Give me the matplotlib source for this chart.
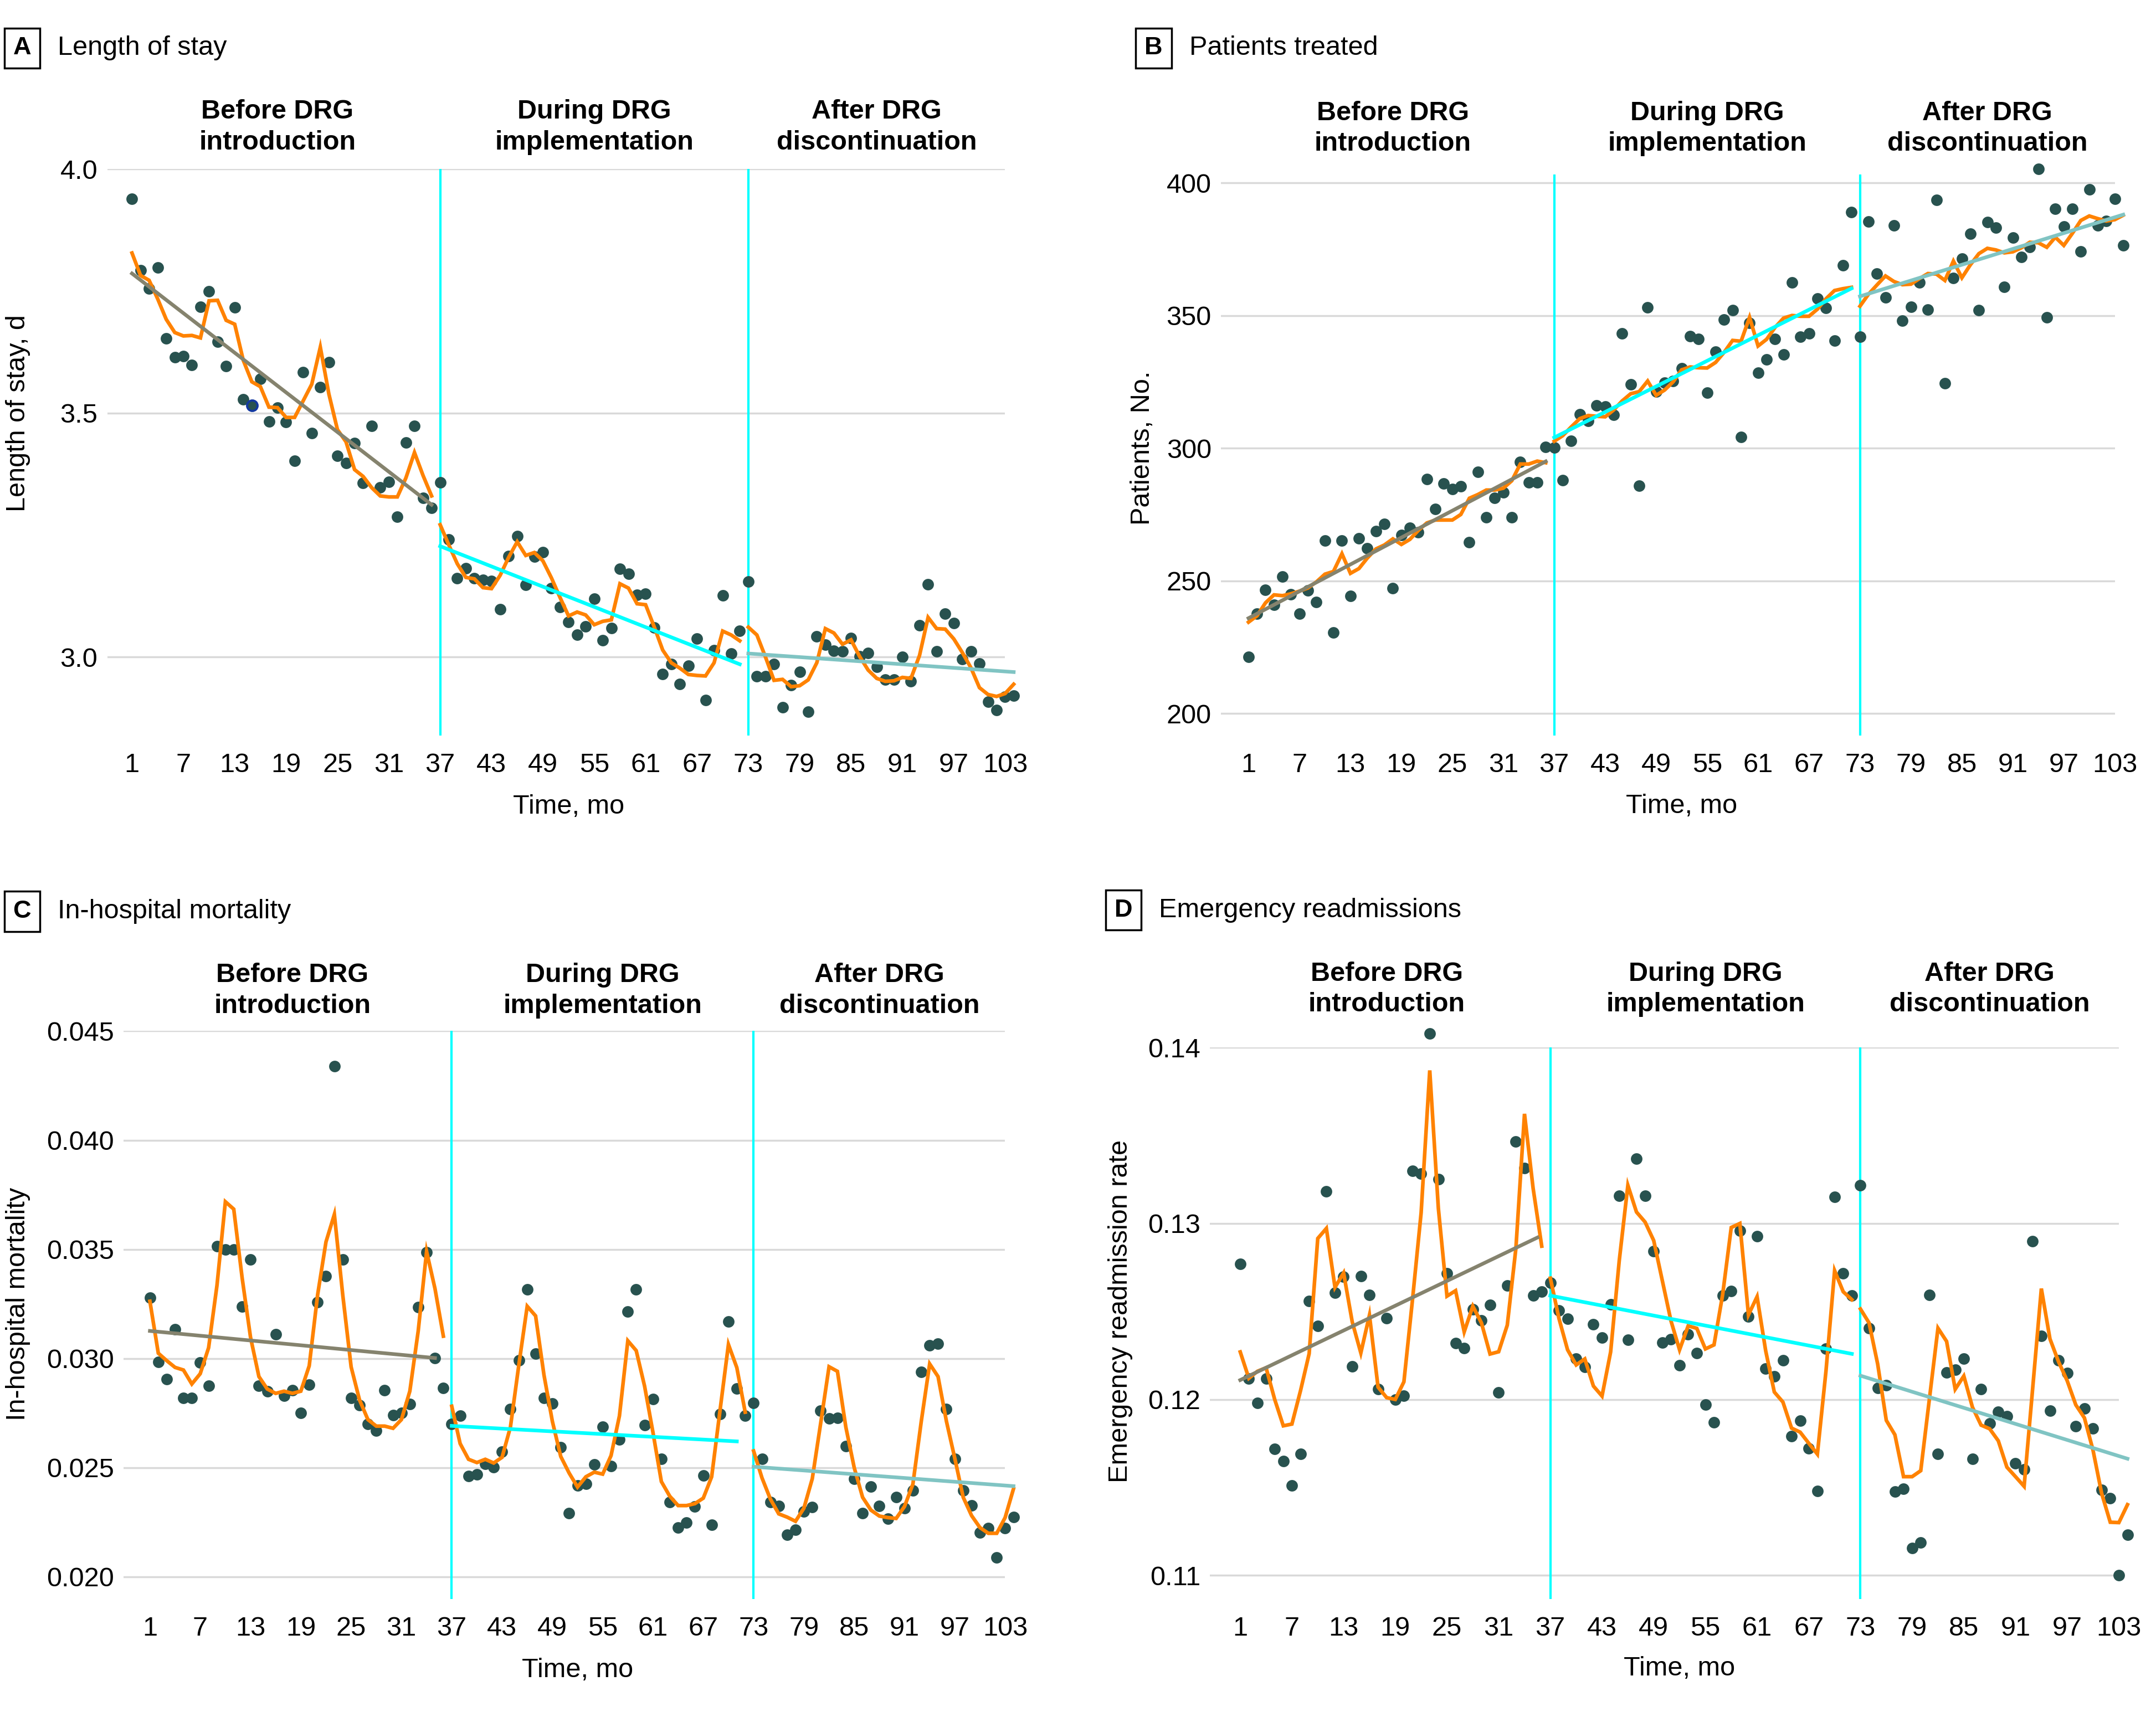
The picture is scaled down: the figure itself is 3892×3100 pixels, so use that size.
import numpy as np
import matplotlib
matplotlib.use("Agg")
import matplotlib.pyplot as plt
import matplotlib.transforms as transforms

plt.rcParams['font.family'] = ['Liberation Sans', 'DejaVu Sans']

months = np.arange(1, 105)
segments = [(1, 36), (37, 72), (73, 104)]
breaks = [37, 73]
phase_labels = ['Before DRG\nintroduction', 'During DRG\nimplementation', 'After DRG\ndiscontinuation']
phase_centers = [18, 55, 88]
xticks = np.arange(1, 104, 6)

# A: length of stay (days)
los_obs = [3.939, 3.793, 3.755, 3.798, 3.653, 3.614, 3.617, 3.598, 3.718, 3.749, 3.646, 3.596, 3.716, 3.528, 3.516,
           3.570, 3.483, 3.511, 3.481, 3.402, 3.584, 3.459, 3.553, 3.604, 3.412, 3.397, 3.438, 3.357, 3.473, 3.347,
           3.359, 3.287, 3.439, 3.473, 3.326, 3.306,
           3.358, 3.241, 3.161, 3.182, 3.161, 3.158, 3.156, 3.098, 3.207, 3.248, 3.148, 3.206, 3.215, 3.141, 3.102,
           3.072, 3.045, 3.062, 3.119, 3.034, 3.059, 3.181, 3.170, 3.127, 3.130, 3.060, 2.965, 2.985, 2.945, 2.982,
           3.038, 2.911, 3.014, 3.126, 3.007, 3.053,
           3.155, 2.960, 2.960, 2.985, 2.897, 2.942, 2.969, 2.888, 3.042, 3.025, 3.012, 3.011, 3.039, 3.001, 3.008,
           2.980, 2.954, 2.953, 3.000, 2.950, 3.065, 3.149, 3.011, 3.089, 3.069, 2.996, 3.011, 2.987, 2.908, 2.891,
           2.918, 2.921]
los_fit = [3.828, 3.782, 3.772, 3.734, 3.692, 3.665, 3.658, 3.659, 3.654, 3.730, 3.731, 3.690, 3.682, 3.608, 3.564,
           3.554, 3.512, 3.511, 3.491, 3.491, 3.525, 3.559, 3.635, 3.539, 3.466, 3.441, 3.384, 3.370, 3.347, 3.330,
           3.328, 3.328, 3.367, 3.419, 3.372, 3.330,
           3.271, 3.230, 3.191, 3.163, 3.160, 3.142, 3.140, 3.167, 3.204, 3.236, 3.208, 3.214, 3.197, 3.162, 3.122,
           3.084, 3.092, 3.086, 3.066, 3.073, 3.076, 3.150, 3.141, 3.109, 3.107, 3.062, 3.014, 2.988, 2.977, 2.964,
           2.962, 2.961, 2.988, 3.053, 3.045, 3.033,
           3.061, 3.045, 3.000, 2.952, 2.954, 2.939, 2.941, 2.953, 2.988, 3.058, 3.049, 3.026, 3.035, 3.001, 2.973,
           2.956, 2.950, 2.951, 2.958, 2.956, 3.003, 3.081, 3.058, 3.057, 3.037, 3.009, 2.978, 2.937, 2.923, 2.919,
           2.925, 2.944]
los_trend = [(1, 3.786, 36, 3.312), (37, 3.227, 72, 2.985), (73, 3.007, 104, 2.969)]

# B: patients treated
pat_obs = [221.3, 237.5, 246.6, 241.0, 251.5, 244.9, 237.5, 246.3, 241.9, 265.1, 230.6, 265.1, 244.2, 265.9, 262.3,
           268.7, 271.4, 247.3, 267.3, 269.9, 268.3, 288.3, 277.1, 286.7, 284.5, 285.7, 264.6, 291.0, 273.9, 281.3,
           283.3, 273.9, 294.9, 287.0, 287.0, 300.5,
           300.2, 288.0, 302.7, 312.7, 310.2, 316.0, 315.6, 312.5, 343.3, 324.1, 285.8, 353.1, 321.4, 324.7, 325.2,
           330.0, 342.2, 341.2, 320.8, 336.3, 348.5, 352.1, 304.2, 347.2, 328.5, 333.5, 341.2, 335.2, 362.5, 342.0,
           343.3, 356.3, 352.9, 340.6, 369.0, 389.0,
           342.0, 385.3, 365.8, 356.8, 384.0, 348.1, 353.3, 362.5, 352.2, 393.6, 324.5, 364.1, 371.5, 380.8, 351.9,
           385.1, 383.0, 360.8, 379.3, 372.0, 375.7, 405.3, 349.2, 390.1, 383.5, 390.1, 374.1, 397.6, 384.0, 385.6,
           393.9, 376.4]
pat_fit = [234.4, 236.8, 241.7, 244.7, 244.4, 245.1, 246.1, 247.3, 249.6, 252.5, 253.5, 260.2, 252.8, 254.6, 258.6,
           262.0, 263.5, 265.8, 263.7, 265.6, 269.0, 271.8, 272.9, 272.9, 272.9, 275.0, 281.1, 282.5, 284.2, 284.2,
           284.9, 287.7, 294.0, 294.0, 295.1, 294.5,
           302.6, 304.7, 308.0, 311.1, 312.3, 312.0, 311.8, 314.4, 317.8, 320.5, 321.3, 325.3, 319.9, 321.9, 325.0,
           329.5, 330.6, 330.3, 330.2, 332.3, 336.1, 340.6, 340.3, 349.3, 338.5, 341.0, 345.5, 349.0, 350.0, 349.7,
           349.7, 352.4, 356.3, 359.4, 360.1, 360.6,
           353.5, 358.0, 361.5, 364.9, 362.8, 361.6, 361.8, 363.9, 365.8, 365.6, 363.2, 370.5, 364.2, 369.1, 373.3,
           375.3, 374.7, 373.6, 374.0, 375.5, 377.6, 377.4, 375.7, 379.5, 376.4, 380.9, 385.8, 387.5, 386.5, 385.6,
           386.1, 387.8]
pat_trend = [(1, 235.9, 36, 295.0), (37, 304.0, 72, 360.2), (73, 357.2, 104, 388.0)]

# C: in-hospital mortality
mort_obs = [0.03277, 0.02983, 0.02906, 0.03133, 0.02819, 0.02819, 0.02981, 0.02874, 0.03513, 0.03500, 0.03500,
            0.03238, 0.03454, 0.02876, 0.02850, 0.03112, 0.02830, 0.02854, 0.02750, 0.02879, 0.03257, 0.03376,
            0.04340, 0.03454, 0.02820, 0.02787, 0.02700, 0.02670, 0.02854, 0.02740, 0.02750, 0.02790, 0.03235,
            0.03487, 0.03002, 0.02864,
            0.02699, 0.02737, 0.02462, 0.02470, 0.02517, 0.02502, 0.02572, 0.02769, 0.02992, 0.03316, 0.03023,
            0.02819, 0.02794, 0.02592, 0.02292, 0.02417, 0.02425, 0.02515, 0.02686, 0.02508, 0.02629, 0.03214,
            0.03316, 0.02695, 0.02814, 0.02540, 0.02341, 0.02225, 0.02247, 0.02322, 0.02464, 0.02237, 0.02746,
            0.03169, 0.02862, 0.02737,
            0.02797, 0.02540, 0.02342, 0.02324, 0.02191, 0.02214, 0.02298, 0.02318, 0.02760, 0.02725, 0.02727,
            0.02597, 0.02449, 0.02290, 0.02413, 0.02324, 0.02267, 0.02364, 0.02315, 0.02394, 0.02938, 0.03061,
            0.03068, 0.02769, 0.02540, 0.02394, 0.02326, 0.02203, 0.02222, 0.02089, 0.02222, 0.02273]
mort_fit = [0.03262, 0.03024, 0.02990, 0.02959, 0.02947, 0.02883, 0.02930, 0.03049, 0.03335, 0.03718, 0.03684,
            0.03369, 0.03097, 0.02917, 0.02860, 0.02840, 0.02850, 0.02840, 0.02850, 0.02966, 0.03291, 0.03534,
            0.03660, 0.03291, 0.02961, 0.02810, 0.02720, 0.02690, 0.02690, 0.02680, 0.02720, 0.02850, 0.03126,
            0.03490, 0.03320, 0.03102,
            0.02781, 0.02610, 0.02538, 0.02523, 0.02538, 0.02521, 0.02547, 0.02686, 0.02970, 0.03239, 0.03195,
            0.02924, 0.02712, 0.02551, 0.02475, 0.02411, 0.02458, 0.02479, 0.02470, 0.02555, 0.02737, 0.03081,
            0.03036, 0.02873, 0.02661, 0.02436, 0.02369, 0.02326, 0.02326, 0.02335, 0.02360, 0.02458, 0.02763,
            0.03064, 0.02958, 0.02754,
            0.02576, 0.02453, 0.02356, 0.02288, 0.02273, 0.02254, 0.02314, 0.02449, 0.02703, 0.02962, 0.02941,
            0.02686, 0.02500, 0.02364, 0.02305, 0.02278, 0.02271, 0.02267, 0.02322, 0.02424, 0.02712, 0.02975,
            0.02917, 0.02712, 0.02542, 0.02364, 0.02280, 0.02225, 0.02199, 0.02199, 0.02271, 0.02403]
mort_trend = [(1, 0.03126, 35, 0.03002), (37, 0.02691, 71, 0.02620), (73, 0.02504, 104, 0.02415)]

# D: emergency readmission rate
readm_obs = [0.12770, 0.1212, 0.1198, 0.1212, 0.1172, 0.1165, 0.1151, 0.1169, 0.12558, 0.12416, 0.13181, 0.12606,
             0.12697, 0.12188, 0.12700, 0.12593, 0.1206, 0.12460, 0.1200, 0.1202, 0.13298, 0.13282, 0.14081,
             0.13253, 0.12717, 0.12321, 0.12293, 0.12511, 0.12448, 0.12536, 0.1204, 0.12646, 0.13465, 0.13314,
             0.12590, 0.12612,
             0.12664, 0.12506, 0.12458, 0.12233, 0.12185, 0.12426, 0.12350, 0.12540, 0.13156, 0.12339, 0.13368,
             0.13156, 0.12843, 0.12322, 0.12341, 0.12193, 0.12369, 0.12262, 0.11971, 0.11869, 0.12592, 0.12616,
             0.12960, 0.12470, 0.12929, 0.12176, 0.12130, 0.12223, 0.11791, 0.11879, 0.11723, 0.1148, 0.12287,
             0.13151, 0.12717, 0.12592,
             0.13217, 0.12405, 0.12065, 0.12082, 0.11477, 0.11493, 0.11155, 0.11187, 0.12593, 0.11690, 0.12153,
             0.12170, 0.12232, 0.11663, 0.12058, 0.11865, 0.11929, 0.11904, 0.11636, 0.11602, 0.12899, 0.12361,
             0.11935, 0.12221, 0.12149, 0.11847, 0.11949, 0.11836, 0.11486, 0.11438, 0.11000, 0.11230]
readm_fit = [0.1227, 0.1212, 0.1216, 0.1218, 0.1200, 0.1185, 0.1186, 0.1205, 0.1226, 0.12915, 0.12972, 0.12637,
             0.12719, 0.12441, 0.12264, 0.12479, 0.1207, 0.1201, 0.1200, 0.1210, 0.12568, 0.13061, 0.13870,
             0.13086, 0.12587, 0.12618, 0.12384, 0.12530, 0.12435, 0.12258, 0.12271, 0.12422, 0.12858, 0.13623,
             0.13200, 0.12871,
             0.12689, 0.12460, 0.12282, 0.12196, 0.12230, 0.12076, 0.12019, 0.12270, 0.12789, 0.13217, 0.13065,
             0.13008, 0.12903, 0.12675, 0.12447, 0.12282, 0.12418, 0.12404, 0.12287, 0.12310, 0.12595, 0.12977,
             0.13000, 0.12481, 0.12584, 0.12276, 0.12042, 0.11985, 0.11837, 0.11814, 0.11751, 0.11689, 0.12162,
             0.12732, 0.12612, 0.12567,
             0.12514, 0.12435, 0.12201, 0.11881, 0.11799, 0.11561, 0.11561, 0.11595, 0.12001, 0.12405, 0.12330,
             0.12058, 0.12133, 0.11956, 0.11854, 0.11833, 0.11765, 0.11615, 0.11561, 0.11506, 0.12067, 0.12630,
             0.12344, 0.12214, 0.12106, 0.11969, 0.11895, 0.11711, 0.11466, 0.11302, 0.11300, 0.11402]
readm_trend = [(1, 0.1211, 35.5, 0.1292), (37, 0.1259, 72, 0.12259), (73, 0.12135, 104, 0.11663)]

DOT = '#28524F'
ORANGE = '#FF8200'
TREND_COLORS = ['#85836E', '#00FFFF', '#80C4C3']
BREAK = '#00FFFF'
GRID = '#D9D9D9'
FS = 14

W, H = 1568.0, 1249.0   # layout measured on the reference, in its pixel units

panels = [
    dict(letter='A', title='Length of stay', ylabel='Length of stay, d',
         obs=los_obs, fit=los_fit, trend=los_trend,
         ylim=(2.839, 4.0), yticks=[3.0, 3.5, 4.0], fmt='{:.1f}', xlim=(-1.89, 103),
         box=(78, 123, 731, 535), title_y=35, letter_x=16, ylabel_x=13, head_y=92.5),
    dict(letter='B', title='Patients treated', ylabel='Patients, No.',
         obs=pat_obs, fit=pat_fit, trend=pat_trend,
         ylim=(191.7, 403.1), yticks=[200, 250, 300, 350, 400], fmt='{:.0f}', xlim=(-2.24, 103),
         box=(888, 127, 1538, 535), title_y=35, letter_x=839, ylabel_x=831, head_y=93.5),
    dict(letter='C', title='In-hospital mortality', ylabel='In-hospital mortality',
         obs=mort_obs, fit=mort_fit, trend=mort_trend,
         ylim=(0.01899, 0.045), yticks=[0.020, 0.025, 0.030, 0.035, 0.040, 0.045], fmt='{:.3f}',
         xlim=(-2.12, 103), box=(90, 750, 731, 1163), title_y=663, letter_x=16, ylabel_x=13, head_y=720.5),
    dict(letter='D', title='Emergency readmissions', ylabel='Emergency readmission rate',
         obs=readm_obs, fit=readm_fit, trend=readm_trend,
         ylim=(0.10867, 0.14), yticks=[0.11, 0.12, 0.13, 0.14], fmt='{:.2f}', xlim=(-2.51, 103),
         box=(880, 762, 1541, 1163), title_y=662, letter_x=817, ylabel_x=815, head_y=719.5),
]

fig = plt.figure(figsize=(15.568, 12.4), dpi=250)

for p in panels:
    x0, y0, x1, y1 = p['box']
    ax = fig.add_axes([x0 / W, 1 - y1 / H, (x1 - x0) / W, (y1 - y0) / H])
    obs = np.array(p['obs'])
    fit = np.array(p['fit'])

    for b in breaks:
        ax.axvline(b, color=BREAK, lw=1.2, zorder=1)

    ax.scatter(months, obs, s=36, color=DOT, linewidths=0, zorder=2, clip_on=False)
    if p['letter'] == 'A':
        ax.scatter(months[14], obs[14], s=30, color=DOT, edgecolors='#1238A0', linewidths=1.1, zorder=2)

    for (s0, s1), col, tr in zip(segments, TREND_COLORS, p['trend']):
        m = (months >= s0) & (months <= s1)
        ax.plot(months[m], fit[m], color=ORANGE, lw=1.9, zorder=3, clip_on=False, solid_joinstyle='miter')
        ax.plot([tr[0], tr[2]], [tr[1], tr[3]], color=col, lw=1.9, zorder=4, clip_on=False)

    ax.set_xlim(*p['xlim'])
    ax.set_ylim(*p['ylim'])
    ax.set_xticks(xticks)
    ax.set_yticks(p['yticks'])
    ax.set_yticklabels([p['fmt'].format(v) for v in p['yticks']])
    ax.yaxis.grid(True, color=GRID, lw=1.0, zorder=0)
    ax.set_axisbelow(True)
    for sp in ax.spines.values():
        sp.set_visible(False)
    ax.tick_params(axis='both', length=0, labelsize=FS)
    ax.tick_params(axis='x', pad=9)
    ax.tick_params(axis='y', pad=5)

    # x label centred on tick range
    tr_x = transforms.blended_transform_factory(ax.transData, ax.transAxes)
    ax.text(52, -(587 - 535) / (535 - 123), 'Time, mo', transform=tr_x, ha='center', va='center', fontsize=FS)

    # y label centred on the tick range
    tr_y = transforms.blended_transform_factory(fig.transFigure, ax.transData)
    ymid = (p['yticks'][0] + p['yticks'][-1]) / 2
    ax.text(p['ylabel_x'] / W, ymid, p['ylabel'], transform=tr_y, rotation=90,
            ha='center', va='center', fontsize=FS)

    # phase headers
    tr_h = transforms.blended_transform_factory(ax.transData, fig.transFigure)
    for lab, cx in zip(phase_labels, phase_centers):
        ax.text(cx, 1 - p['head_y'] / H, lab, transform=tr_h, ha='center', va='center',
                fontsize=FS, fontweight='bold', linespacing=1.3, multialignment='center')

    # panel letter and title
    fig.text(p['letter_x'] / W, 1 - p['title_y'] / H, p['letter'], ha='center', va='center',
             fontsize=FS - 1, fontweight='bold',
             bbox=dict(boxstyle='square,pad=0.35', fc='white', ec='black', lw=1.0))
    fig.text((p['letter_x'] + 26) / W, 1 - p['title_y'] / H, p['title'], ha='left', va='center', fontsize=FS)

fig.savefig('out.png', dpi=250, facecolor='white')
